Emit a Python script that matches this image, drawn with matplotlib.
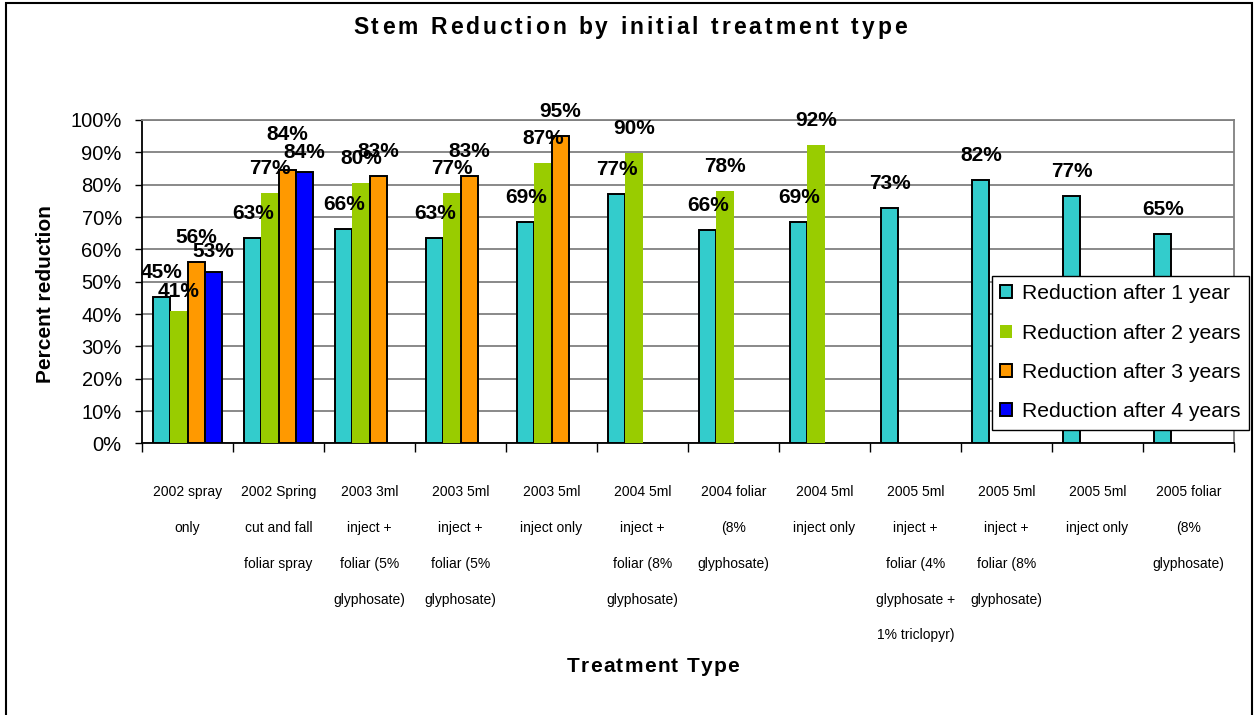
import numpy as np
import matplotlib
matplotlib.use('Agg')
import matplotlib.pyplot as plt
from matplotlib.patches import Rectangle
from matplotlib.ticker import FixedLocator, PercentFormatter
from matplotlib import font_manager, ft2font

plt.rcParams['font.family'] = ['Liberation Sans', 'DejaVu Sans']

nan = np.nan

treatments = [
    '2002 spray\nonly',
    '2002 Spring\ncut and fall\nfoliar spray',
    '2003 3ml\ninject +\nfoliar (5%\nglyphosate)',
    '2003 5ml\ninject +\nfoliar (5%\nglyphosate)',
    '2003 5ml\ninject only',
    '2004 5ml\ninject +\nfoliar (8%\nglyphosate)',
    '2004 foliar\n(8%\nglyphosate)',
    '2004 5ml\ninject only',
    '2005 5ml\ninject +\nfoliar (4%\nglyphosate +\n1% triclopyr)',
    '2005 5ml\ninject +\nfoliar (8%\nglyphosate)',
    '2005 5ml\ninject only',
    '2005 foliar\n(8%\nglyphosate)',
]

after_1yr = [0.454, 0.634, 0.662, 0.634, 0.686, 0.772, 0.661, 0.686, 0.729, 0.816, 0.766, 0.649]
after_2yr = [0.410, 0.774, 0.804, 0.774, 0.867, 0.899, 0.781, 0.924, nan, nan, nan, nan]
after_3yr = [0.562, 0.844, 0.828, 0.828, 0.951, nan, nan, nan, nan, nan, nan, nan]
after_4yr = [0.530, 0.840, nan, nan, nan, nan, nan, nan, nan, nan, nan, nan]

series = [after_1yr, after_2yr, after_3yr, after_4yr]
series_names = ['Reduction after 1 year', 'Reduction after 2 years',
                'Reduction after 3 years', 'Reduction after 4 years']
colors = ['#33CCCC', '#99CC00', '#FF9900', '#0000FF']
edges = ['black', 'none', 'black', 'black']

# label nudges (px) where the original chart shifted a label
nudge = {(0, 1): -5, (0, 3): -4, (1, 2): 11, (1, 3): -5}

W, H = 1256, 715
fig = plt.figure(figsize=(W / 100, H / 100), dpi=100)
ax = fig.add_axes([142 / W, 1 - 443.5 / H, (1234 - 142) / W, (443.5 - 120) / H])

x = np.arange(len(treatments))
bw = 0.187

for k, vals in enumerate(series):
    vals = np.array(vals, dtype=float)
    ok = ~np.isnan(vals)
    xs = x[ok] + (k - 1.5) * bw
    ax.bar(xs, vals[ok], bw, color=colors[k], edgecolor=edges[k],
           linewidth=1.4, label=series_names[k], zorder=3)
    for i, xi, v in zip(x[ok], xs, vals[ok]):
        dy = (19 + nudge.get((i, k), 0)) * 0.72
        ax.annotate(f'{v:.0%}', (xi, v), xytext=(0, dy), textcoords='offset points',
                    ha='center', va='baseline', fontsize=15, fontweight='bold',
                    zorder=5)

ax.set_xlim(-0.5, len(treatments) - 0.5)
ax.set_ylim(0, 1)
ax.yaxis.set_major_locator(FixedLocator(np.arange(0, 1.01, 0.1)))
ax.yaxis.set_major_formatter(PercentFormatter(1.0, decimals=0))
ax.tick_params(axis='y', labelsize=14.5, length=5, width=1, pad=9.5, direction='out')
ax.grid(axis='y', color='#808080', linewidth=1.3, zorder=0)
ax.set_axisbelow(True)

ax.set_xticks(x)
ax.set_xticklabels(treatments, fontsize=10, linespacing=2.98)
ax.set_xticks(np.arange(-0.5, len(treatments)), minor=True)
ax.tick_params(axis='x', which='major', length=0, pad=30)
ax.tick_params(axis='x', which='minor', length=6.5, width=1, direction='out')

for s in ['left', 'bottom']:
    ax.spines[s].set_color('black')
    ax.spines[s].set_linewidth(1.3)
for s in ['top', 'right']:
    ax.spines[s].set_color('#808080')
    ax.spines[s].set_linewidth(1.3)


def spaced_text(cx, base_y, s, size, gap):
    # bold Arial-like text with extra letter spacing, centred at cx (px)
    path = font_manager.findfont(font_manager.FontProperties(family='Liberation Sans', weight='bold'))
    f = ft2font.FT2Font(path)
    f.set_size(size, 100)
    adv = [f.load_char(ord(ch)).linearHoriAdvance / 65536 for ch in s]
    total = sum(adv) + gap * (len(s) - 1)
    xpos = cx - total / 2
    for ch, a in zip(s, adv):
        if ch != ' ':
            fig.text(xpos / W, 1 - base_y / H, ch, ha='left', va='baseline',
                     fontsize=size, fontweight='bold')
        xpos += a + gap


spaced_text(630, 34, 'Stem Reduction by initial treatment type', 16.5, 3.0)
spaced_text(653, 672, 'Treatment Type', 15, 1.3)
fig.text(46 / W, 1 - 294 / H, 'Percent reduction', rotation=90,
         ha='center', va='center', fontsize=15, fontweight='bold')

leg = ax.legend(loc='upper left', bbox_to_anchor=(992 / W, 1 - 276 / H),
                bbox_transform=fig.transFigure, borderaxespad=0,
                fontsize=15.2, handlelength=0.57, handleheight=0.57,
                handletextpad=0.45, labelspacing=0.96, borderpad=0.4,
                fancybox=False, framealpha=1, edgecolor='black')
leg.get_frame().set_linewidth(1.0)
leg.set_zorder(10)

fig.patches.append(Rectangle((6 / W, -0.01), (1252 - 6) / W, 1.01 - 3 / H,
                             transform=fig.transFigure, fill=False,
                             edgecolor='black', linewidth=1.5))

fig.savefig('out.png', dpi=100)
